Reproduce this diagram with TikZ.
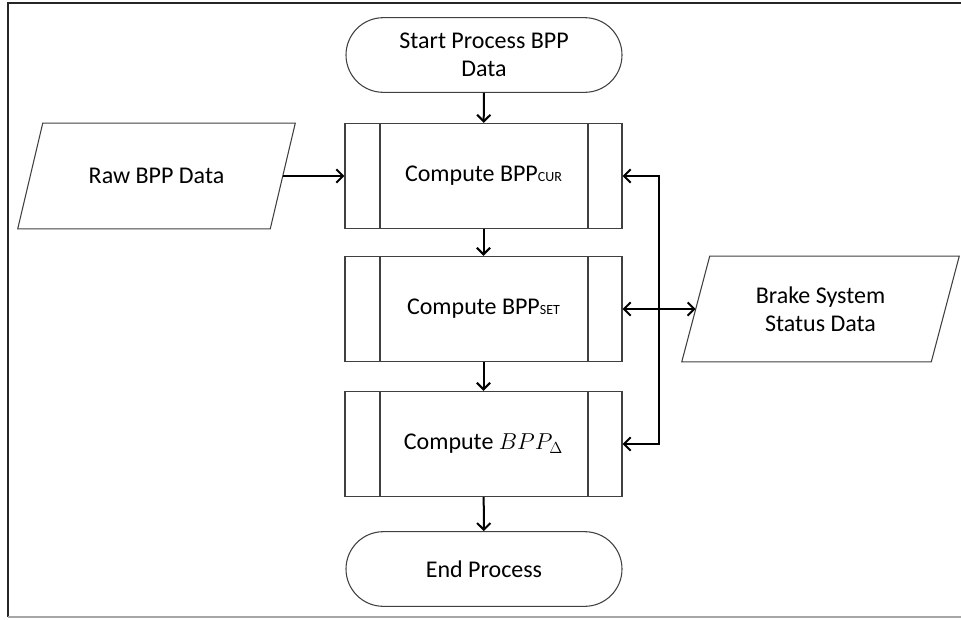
\documentclass[tikz,border=0pt]{standalone}
\usepackage{amsmath}
\usepackage{fontspec}
\setmainfont{Carlito}
\usetikzlibrary{arrows.meta}

\begin{document}
\begin{tikzpicture}[x=0.75pt, y=-0.75pt]
  \tikzstyle{term} = [draw=black!75, line width=0.8pt, rounded corners=28pt, minimum width=207pt, minimum height=56pt, align=center, inner sep=0pt]
  \tikzstyle{subproc} = [draw=black!75, line width=0.8pt, minimum width=207.75pt, minimum height=79pt, inner sep=0pt,
      path picture={
        \draw[black!75, line width=0.8pt] ([xshift=26.25pt]path picture bounding box.north west) -- ([xshift=26.25pt]path picture bounding box.south west);
        \draw[black!75, line width=0.8pt] ([xshift=-25.5pt]path picture bounding box.north east) -- ([xshift=-25.5pt]path picture bounding box.south east);
      }]
  \tikzstyle{dataio} = [minimum height=79pt, align=center, inner sep=0pt]
  \tikzstyle{slant} = [draw=black!75, line width=0.8pt]
  \tikzstyle{flow} = [line width=1.5pt, -{Straight Barb[length=5pt, width=10pt]}]
  \tikzstyle{both} = [flow, {Straight Barb[length=5pt, width=10pt]}-{Straight Barb[length=5pt, width=10pt]}]
  \useasboundingbox (0,0) rectangle (961,619);
  \draw[line width=1.5pt, black!85] (961,3) -- (8,3) -- (8,617);
  \draw[line width=1.5pt, black!35] (8,617) -- (961,617);
  \fontsize{18}{21}\selectfont
  \node[term] (start) at (484,55) {Start Process BPP\\Data};
  \node[subproc] (cur) at (483.5,176) {Compute BPP{\fontsize{10.5}{12}\selectfont CUR}};
  \node[subproc] (set) at (483.5,309) {Compute BPP{\fontsize{10.5}{12}\selectfont SET}};
  \node[subproc] (delta) at (483.5,444) {Compute $BPP_\Delta$};
  \node[term] (stop) at (484,569) {End Process};
  \node[dataio, minimum width=189pt] (raw) at (156.5,176) {Raw BPP Data};
  \node[dataio, minimum width=186.75pt] (brake) at (820.5,309) {Brake System\\Status Data};
  % parallelogram outlines
  \draw[slant] ([xshift=-9.4pt]raw.south west) -- ([xshift=9.4pt]raw.north west) -- ([xshift=9.4pt]raw.north east) -- ([xshift=-9.4pt]raw.south east) -- cycle;
  \draw[slant] ([xshift=-10.5pt]brake.south west) -- ([xshift=10.5pt]brake.north west) -- ([xshift=10.5pt]brake.north east) -- ([xshift=-10.5pt]brake.south east) -- cycle;
  \draw[flow] (start) -- (cur);
  \draw[flow] (cur) -- (set);
  \draw[flow] (set) -- (delta);
  \draw[flow] (delta) -- (stop);
  \draw[flow] (raw) -- (cur);
  \draw[both] (set) -- (brake);
  \draw[both] (cur.east) -- ++(36,0) |- (delta.east);
\end{tikzpicture}
\end{document}
